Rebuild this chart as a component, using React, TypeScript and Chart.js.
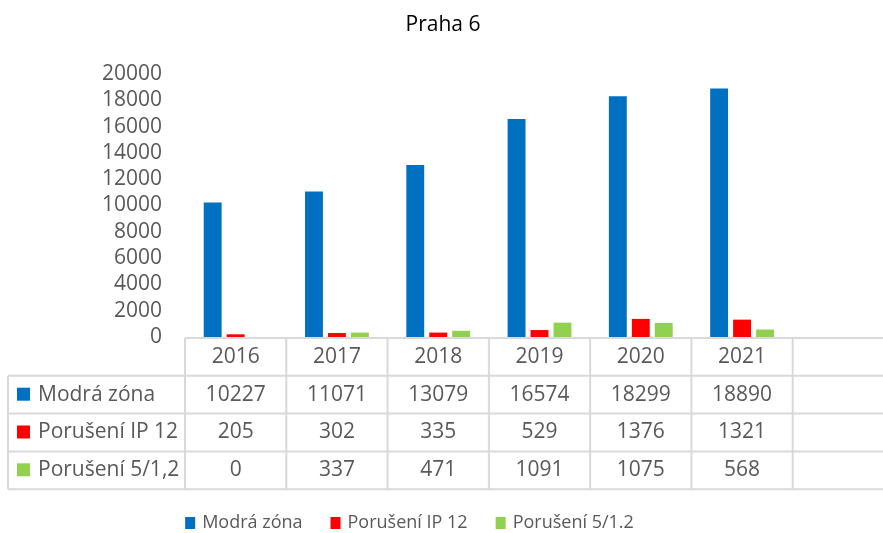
import React, { useEffect, useRef } from 'react';
import { Chart, registerables } from 'chart.js';

Chart.register(...registerables);

const chartTitle = 'Praha 6';
const categories = ['2016', '2017', '2018', '2019', '2020', '2021', ''];
const seriesNames = ['Modrá zóna', 'Porušení IP 12', 'Porušení 5/1.2'];
const tableRowLabels = ['Modrá zóna', 'Porušení IP 12', 'Porušení 5/1,2'];
const modraZona = [10227, 11071, 13079, 16574, 18299, 18890];
const poruseniIP12 = [205, 302, 335, 529, 1376, 1321];
const poruseni512 = [0, 337, 471, 1091, 1075, 568];
const seriesColors = ['#0070C0', '#FF0000', '#92D050'];
const yMin = 0;
const yMax = 20000;
const yStep = 2000;

const FONT = '"Open Sans", "DejaVu Sans", sans-serif';
const TEXT = '#595959';
const GRID = '#d9d9d9';

const tablePlugin = {
  id: 'excelTableLegend',
  afterDraw(chart: any) {
    const ctx = chart.ctx as CanvasRenderingContext2D;
    const area = chart.chartArea;
    const n = chart.data.labels.length;
    const colW = (area.right - area.left) / n;
    const top = area.bottom + 1;
    const rowH = 37.8;
    const tableLeft = 8;
    const rows = chart.data.datasets.length;
    const bottom = top + rowH * (rows + 1);

    ctx.save();
    // title
    ctx.fillStyle = '#000000';
    ctx.font = `21px ${FONT}`;
    ctx.textAlign = 'center';
    ctx.textBaseline = 'middle';
    ctx.fillText(chartTitle, 443, 25);

    // grid lines
    ctx.strokeStyle = GRID;
    ctx.lineWidth = 2;
    ctx.beginPath();
    ctx.moveTo(area.left, top);
    ctx.lineTo(area.right, top);
    for (let r = 1; r <= rows + 1; r++) {
      const y = top + r * rowH;
      ctx.moveTo(tableLeft, y);
      ctx.lineTo(area.right, y);
    }
    for (let c = 0; c <= n; c++) {
      const x = area.left + c * colW;
      ctx.moveTo(x, top);
      ctx.lineTo(x, bottom);
    }
    ctx.moveTo(tableLeft, top + rowH);
    ctx.lineTo(tableLeft, bottom);
    ctx.stroke();

    // header
    ctx.fillStyle = TEXT;
    ctx.font = `21px ${FONT}`;
    ctx.textAlign = 'center';
    for (let c = 0; c < n; c++) {
      const x = area.left + (c + 0.5) * colW;
      ctx.fillText(String(chart.data.labels[c]), x, top + rowH / 2);
    }
    // rows
    chart.data.datasets.forEach((ds: any, r: number) => {
      const yc = top + (r + 1.5) * rowH;
      ctx.fillStyle = ds.backgroundColor;
      ctx.fillRect(17, yc - 7, 13, 13);
      ctx.fillStyle = TEXT;
      ctx.textAlign = 'left';
      ctx.fillText(tableRowLabels[r], 38, yc);
      ctx.textAlign = 'center';
      for (let c = 0; c < n; c++) {
        const v = ds.data[c];
        if (v === undefined || v === null) continue;
        ctx.fillText(String(v), area.left + (c + 0.5) * colW, yc);
      }
    });

    // legend
    ctx.font = `18px ${FONT}`;
    const box = 10;
    const gapBoxText = 7;
    const gapItems = 28;
    const widths = chart.data.datasets.map((ds: any) => ctx.measureText(ds.label).width);
    const total = widths.reduce((a: number, w: number) => a + box + gapBoxText + w, 0) + gapItems * (widths.length - 1);
    let x = 409.5 - total / 2;
    const ly = 523;
    chart.data.datasets.forEach((ds: any, i: number) => {
      ctx.fillStyle = ds.backgroundColor;
      ctx.fillRect(x, ly - 6, box, 12);
      x += box + gapBoxText;
      ctx.fillStyle = TEXT;
      ctx.textAlign = 'left';
      ctx.fillText(ds.label, x, ly);
      x += widths[i] + gapItems;
    });
    ctx.restore();
  },
};

export default function App() {
  const ref = useRef<HTMLCanvasElement>(null);
  useEffect(() => {
    if (!ref.current) return;
    const seriesData = [modraZona, poruseniIP12, poruseni512];
    const chart = new Chart(ref.current, {
      type: 'bar',
      data: {
        labels: categories,
        datasets: seriesNames.map((name, i) => ({
          label: name,
          data: seriesData[i],
          backgroundColor: seriesColors[i],
          borderWidth: 0,
          barPercentage: 0.78,
          categoryPercentage: 0.68,
        })),
      },
      options: {
        responsive: false,
        maintainAspectRatio: false,
        animation: false,
        devicePixelRatio: 1,
        layout: { padding: { top: 74, bottom: 196, left: 0, right: 0 } },
        plugins: {
          legend: { display: false },
          title: { display: false },
          tooltip: { enabled: false },
        },
        scales: {
          x: { display: false },
          y: {
            min: yMin,
            max: yMax,
            grid: { display: false, drawTicks: false },
            border: { display: false },
            ticks: {
              stepSize: yStep,
              autoSkip: false,
              padding: 23,
              color: TEXT,
              font: { family: FONT, size: 21 },
              callback: (v: any) => String(v),
            },
            afterFit: (scale: any) => {
              scale.width = 185;
            },
          },
        },
      },
      plugins: [tablePlugin],
    });
    return () => chart.destroy();
  }, []);
  return (
    <div style={{ position: 'fixed', left: 0, top: 0, width: 883, height: 533, overflow: 'hidden', background: '#fff' }}>
      <canvas ref={ref} width={894} height={533} style={{ display: 'block' }} />
    </div>
  );
}
